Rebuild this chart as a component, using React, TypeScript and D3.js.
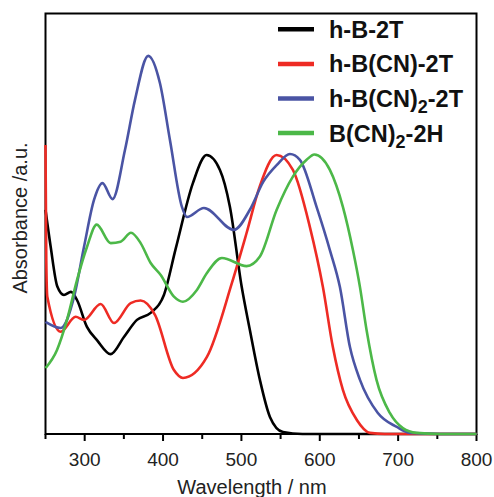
import React from "react";
import * as d3 from "d3";

const W = 494;
const H = 497;

// wavelength (nm) / absorbance (normalised)
const hB2T = [
  [250, 0.8], [256.6, 0.668], [265.1, 0.526], [273.6, 0.496], [282.5, 0.507], [290.2, 0.478],
  [302.9, 0.382], [315.7, 0.335], [333.2, 0.285], [350.1, 0.346], [366.7, 0.407], [384.2, 0.432],
  [401.1, 0.496], [416.4, 0.664], [438.1, 0.895], [455.6, 0.995], [472.6, 0.942], [485.3, 0.811],
  [500.3, 0.526], [510.8, 0.371], [523.6, 0.193], [536.4, 0.061], [553, 0.007], [578, 0], [800, 0],
];

const hBCN2T = [
  [250, 1.031], [251, 0.62], [252.3, 0.49], [269.4, 0.365], [288.5, 0.418], [299.1, 0.407],
  [320.4, 0.464], [337.4, 0.396], [358.7, 0.467], [371.4, 0.476], [389.7, 0.425], [413.9, 0.228],
  [425.4, 0.2], [456, 0.275], [487.9, 0.539], [506.6, 0.717], [523.6, 0.885], [544.9, 0.995],
  [565.7, 0.942], [587.4, 0.738], [604, 0.524], [616.7, 0.31], [629.5, 0.157], [647.3, 0.05],
  [663.9, 0.004], [683, 0], [800, 0],
];

const hBCN22T = [
  [250, 0.4], [269.4, 0.378], [286.4, 0.489], [299.1, 0.667], [311.9, 0.835], [322.7, 0.895],
  [335.5, 0.838], [351.4, 1.013], [364.2, 1.192], [381.1, 1.349], [396, 1.252], [408.8, 1.049],
  [424.1, 0.81], [430.5, 0.774], [452.2, 0.806], [490.4, 0.728], [510.8, 0.8], [528, 0.9],
  [545.3, 0.96], [561.9, 0.999], [574.6, 0.978], [595.9, 0.81], [612.9, 0.656], [625.7, 0.524],
  [638.5, 0.31], [651.3, 0.193], [674.1, 0.075], [698.3, 0.025], [714.9, 0.004], [753, 0], [800, 0],
];

const BCN22H = [
  [250, 0.235], [264.7, 0.3], [277.4, 0.407], [290.2, 0.549], [302.9, 0.667], [315.3, 0.747],
  [333.2, 0.681], [345.9, 0.686], [359.1, 0.718], [371.4, 0.681], [384.2, 0.61], [397, 0.567],
  [413.9, 0.49], [425.4, 0.472], [443.2, 0.514], [456, 0.574], [475.1, 0.628], [506.6, 0.599],
  [523.6, 0.633], [544.9, 0.799], [565.7, 0.918], [583.2, 0.978], [593.1, 0.997], [612.9, 0.942],
  [629.5, 0.81], [642.3, 0.656], [651.3, 0.524], [659.7, 0.371], [672.4, 0.193], [689.4, 0.075],
  [706, 0.021], [723.5, 0.004], [753, 0], [800, 0],
];

const seriesNames = ["h-B-2T", "h-B(CN)-2T", "h-B(CN)2-2T", "B(CN)2-2H"];
const seriesColors = ["#000000", "#ee2b24", "#4a54a4", "#4cb848"];
const seriesData = [hB2T, hBCN2T, hBCN22T, BCN22H];

const majorTicks = [300, 400, 500, 600, 700, 800];
const minorTicks = [250, 350, 450, 550, 650, 750];

const font = "'Liberation Sans', Arial, sans-serif";

export default function App() {
  const left = 45.5, right = 476.5, top = 13.5, bottom = 434;
  const x = d3.scaleLinear().domain([250, 800]).range([left, right]);
  const y = d3.scaleLinear().domain([0, 1.5]).range([bottom, top]);

  const line = d3
    .line<number[]>()
    .x((d) => x(d[0]))
    .y((d) => y(d[1]))
    .curve(d3.curveMonotoneX);

  // legend name, with a subscript for the "2" after ")"
  const renderName = (name: string) => {
    const parts = name.split(")2");
    if (parts.length === 1) return name;
    return (
      <>
        {parts[0] + ")"}
        <tspan fontSize={18} dy={6}>2</tspan>
        <tspan dy={-6}>{parts[1]}</tspan>
      </>
    );
  };

  return (
    <svg
      width={W}
      height={H}
      style={{ position: "absolute", left: 0, top: 0, background: "#fff" }}
    >
      {/* frame */}
      <rect x={left} y={top} width={right - left} height={bottom - top} fill="none" stroke="#000" strokeWidth={2} />

      {majorTicks.map((t) => (
        <g key={"M" + t}>
          <line x1={x(t)} x2={x(t)} y1={bottom} y2={bottom + 7} stroke="#000" strokeWidth={2} />
          <text x={x(t)} y={466} textAnchor="middle" fontFamily={font} fontSize={19} fill="#222">
            {t}
          </text>
        </g>
      ))}
      {minorTicks.map((t) => (
        <line key={"m" + t} x1={x(t)} x2={x(t)} y1={bottom} y2={bottom + 5} stroke="#000" strokeWidth={2} />
      ))}

      {seriesData.map((d, i) => (
        <path key={i} d={line(d as number[][]) || ""} fill="none" stroke={seriesColors[i]} strokeWidth={2.6} strokeLinejoin="round" />
      ))}

      {/* legend */}
      {seriesNames.map((n, i) => {
        const ly = 29.3 + i * 34.6;
        return (
          <g key={n}>
            <line x1={278} x2={314} y1={ly} y2={ly} stroke={seriesColors[i]} strokeWidth={4.5} />
            <text x={329} y={ly + 8.5} fontFamily={font} fontWeight="bold" fontSize={23.5} fill="#111">
              {renderName(n)}
            </text>
          </g>
        );
      })}

      <text x={252} y={494} textAnchor="middle" fontFamily={font} fontSize={20} fill="#222">
        Wavelength / nm
      </text>
      <text
        transform="translate(27,218) rotate(-90)"
        textAnchor="middle"
        fontFamily={font}
        fontSize={20}
        fill="#222"
      >
        Absorbance /a.u.
      </text>
    </svg>
  );
}
